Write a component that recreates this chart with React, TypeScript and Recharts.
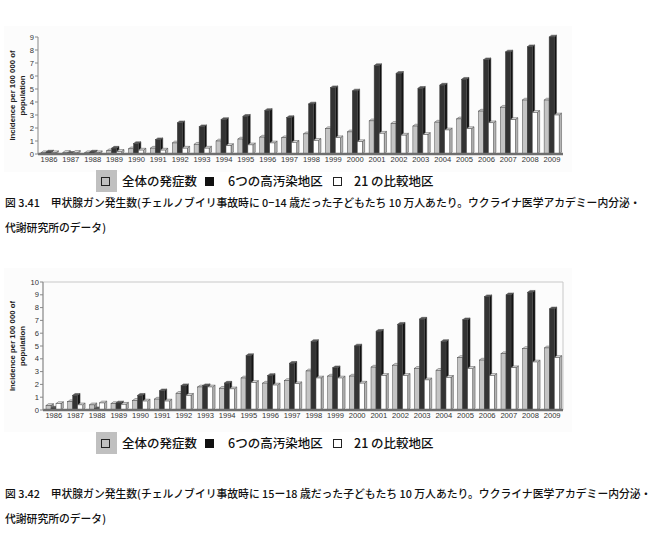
import React from "react";
import { BarChart, Bar, XAxis, YAxis, ReferenceArea } from "recharts";

const years = [
  "1986", "1987", "1988", "1989", "1990", "1991", "1992", "1993",
  "1994", "1995", "1996", "1997", "1998", "1999", "2000", "2001",
  "2002", "2003", "2004", "2005", "2006", "2007", "2008", "2009",
];

// 図 3.41 (0-14 歳)
const allA = [0.1, 0.12, 0.1, 0.25, 0.4, 0.45, 0.85, 0.75, 1.0, 1.15, 1.3, 1.25, 1.55, 1.95, 1.7, 2.55, 2.35, 2.15, 2.45, 2.7, 3.3, 3.6, 4.15, 4.15];
const highA = [0.15, 0.05, 0.15, 0.45, 0.8, 1.1, 2.4, 2.1, 2.65, 2.9, 3.35, 2.8, 3.85, 5.1, 4.85, 6.8, 6.2, 5.05, 5.3, 5.75, 7.25, 7.85, 8.25, 9.0];
const compA = [0.1, 0.12, 0.1, 0.2, 0.3, 0.3, 0.45, 0.45, 0.65, 0.7, 0.85, 0.9, 1.05, 1.25, 0.95, 1.6, 1.45, 1.5, 1.85, 1.95, 2.4, 2.65, 3.2, 3.0];

// 図 3.42 (15-18 歳)
const allB = [0.35, 0.65, 0.4, 0.5, 0.75, 0.85, 1.3, 1.8, 1.7, 2.5, 2.1, 2.3, 3.05, 2.65, 2.65, 3.35, 3.5, 3.25, 3.1, 4.1, 3.9, 4.4, 4.8, 4.85];
const highB = [0.15, 1.15, 0.1, 0.55, 1.15, 1.5, 1.9, 1.9, 2.1, 4.25, 2.7, 3.65, 5.35, 3.3, 5.0, 6.15, 6.7, 7.1, 5.35, 7.05, 8.85, 9.0, 9.2, 7.9];
const compB = [0.5, 0.4, 0.55, 0.45, 0.7, 0.7, 1.15, 1.8, 1.65, 2.15, 1.95, 2.05, 2.5, 2.5, 2.1, 2.7, 2.7, 2.35, 2.55, 3.25, 2.7, 3.3, 3.75, 4.1];

const ticksA = [0, 1, 2, 3, 4, 5, 6, 7, 8, 9];
const ticksB = [0, 1, 2, 3, 4, 5, 6, 7, 8, 9, 10];

const legendItems = ["全体の発症数", "6つの高汚染地区", "21 の比較地区"];
const captionA = [
  "図 3.41　甲状腺ガン発生数(チェルノブイリ事故時に 0−14 歳だった子どもたち 10 万人あたり。ウクライナ医学アカデミー内分泌・",
  "代謝研究所のデータ)",
];
const captionB = [
  "図 3.42　甲状腺ガン発生数(チェルノブイリ事故時に 15ー18 歳だった子どもたち 10 万人あたり。ウクライナ医学アカデミー内分泌・",
  "代謝研究所のデータ)",
];

const toRows = (a: number[], h: number[], c: number[]) =>
  years.map((year, i) => ({ year, all: a[i], high: h[i], comp: c[i] }));

const dataA = toRows(allA, highA, compA);
const dataB = toRows(allB, highB, compB);

const JP = '"Noto Sans CJK JP", "Noto Sans", sans-serif';
const AX = '"Liberation Sans", Arial, sans-serif';

// 3D-looking bar: front face, top face and right side
const make3D = (front: string, side: string, top: string) => (props: any) => {
  const { x, y, width, height } = props;
  if (width == null || height == null || height < 0) return <g />;
  const d = 2.4;
  const e = 1.8;
  return (
    <g stroke="#4a4a4a" strokeWidth={0.5}>
      <polygon
        points={`${x + width},${y} ${x + width + d},${y - e} ${x + width + d},${y + height - e} ${x + width},${y + height}`}
        fill={side}
      />
      <polygon
        points={`${x},${y} ${x + d},${y - e} ${x + width + d},${y - e} ${x + width},${y}`}
        fill={top}
      />
      <rect x={x} y={y} width={width} height={height} fill={front} />
    </g>
  );
};

const grayBar = make3D("#c4c4c4", "#8c8c8c", "#dcdcdc");
const blackBar = make3D("#333333", "#111111", "#5a5a5a");
const whiteBar = make3D("#ffffff", "#b4b4b4", "#e6e6e6");

const YLabel = (props: any) => {
  const vb = props.viewBox || { x: 0, y: 0, width: 0, height: 0 };
  const cy = vb.y + vb.height / 2;
  return (
    <g fontFamily={AX} fontSize={7.8} fontWeight="bold" fill="#222" textAnchor="middle">
      <text transform={`translate(${vb.x + 15},${cy}) rotate(-90)`}>Incidence per 100 000 of</text>
      <text transform={`translate(${vb.x + 25},${cy}) rotate(-90)`}>population</text>
    </g>
  );
};

function Chart({ data, max, ticks, top, height, mTop, xHeight, yWidth, framed }: any) {
  return (
    <div style={{ position: "absolute", left: 0, top, width: 580, height }}>
      <BarChart
        width={580}
        height={height}
        data={data}
        margin={{ top: mTop, right: 17, bottom: 2, left: 0 }}
        barGap={0}
        barSize={5}
      >
        {framed && (
          <ReferenceArea y1={0} y2={max} fill="none" stroke="#c8c8c8" strokeWidth={1} ifOverflow="extendDomain" />
        )}
        <XAxis
          dataKey="year"
          height={xHeight}
          tickLine={false}
          tickSize={3}
          tickMargin={0}
          interval={0}
          axisLine={{ stroke: "#6e6e6e", strokeWidth: 2.5 }}
          tick={{ fontSize: 7.6, fill: "#333", fontFamily: AX }}
        />
        <YAxis
          width={yWidth}
          domain={[0, max]}
          ticks={ticks}
          interval={0}
          tickSize={3}
          tickMargin={1}
          axisLine={{ stroke: "#888" }}
          tickLine={{ stroke: "#888" }}
          tick={{ fontSize: 7.6, fill: "#333", fontFamily: AX }}
          label={<YLabel />}
        />
        <Bar dataKey="all" isAnimationActive={false} shape={grayBar} />
        <Bar dataKey="high" isAnimationActive={false} shape={blackBar} />
        <Bar dataKey="comp" isAnimationActive={false} shape={whiteBar} />
      </BarChart>
    </div>
  );
}

function Legend({ top }: { top: number }) {
  const text: React.CSSProperties = {
    position: "absolute",
    top,
    fontFamily: JP,
    fontSize: 12.5,
    fontWeight: 500,
    color: "#111",
    lineHeight: "22px",
    whiteSpace: "nowrap",
  };
  const box: React.CSSProperties = { position: "absolute", width: 9, height: 9, boxSizing: "border-box" };
  return (
    <>
      <div style={{ position: "absolute", left: 96, top, width: 21, height: 22, background: "#c0c0c0" }} />
      <div style={{ ...box, left: 101, top: top + 7, border: "1.3px solid #222" }} />
      <div style={{ ...text, left: 122 }}>{legendItems[0]}</div>
      <div style={{ ...box, left: 205, top: top + 7, background: "#111" }} />
      <div style={{ ...text, left: 228 }}>{legendItems[1]}</div>
      <div style={{ ...box, left: 333, top: top + 7, border: "1.3px solid #222" }} />
      <div style={{ ...text, left: 354 }}>{legendItems[2]}</div>
    </>
  );
}

function Caption({ lines, top }: { lines: string[]; top: number }) {
  return (
    <>
      {lines.map((line, i) => (
        <div
          key={i}
          style={{
            position: "absolute",
            left: 5,
            top: top + i * 24.5,
            fontFamily: JP,
            fontSize: 10.8,
            fontWeight: 500,
            color: "#111",
            lineHeight: "16px",
            whiteSpace: "nowrap",
          }}
        >
          {line}
        </div>
      ))}
    </>
  );
}

export default function App() {
  return (
    <div style={{ position: "absolute", left: 0, top: 0, width: 660, height: 536, background: "#fff", overflow: "hidden" }}>
      <div style={{ position: "absolute", left: 4, top: 26, width: 568, height: 146, background: "#fcfcfc" }} />
      <div style={{ position: "absolute", left: 4, top: 268, width: 568, height: 164, background: "#fcfcfc" }} />
      <Chart data={dataA} max={9} ticks={ticksA} top={0} height={175} mTop={37} xHeight={19} yWidth={38} framed={false} />
      <Chart data={dataB} max={10} ticks={ticksB} top={250} height={180} mTop={32} xHeight={18} yWidth={43} framed={true} />
      <Legend top={170} />
      <Caption lines={captionA} top={194} />
      <Legend top={432} />
      <Caption lines={captionB} top={485} />
    </div>
  );
}
